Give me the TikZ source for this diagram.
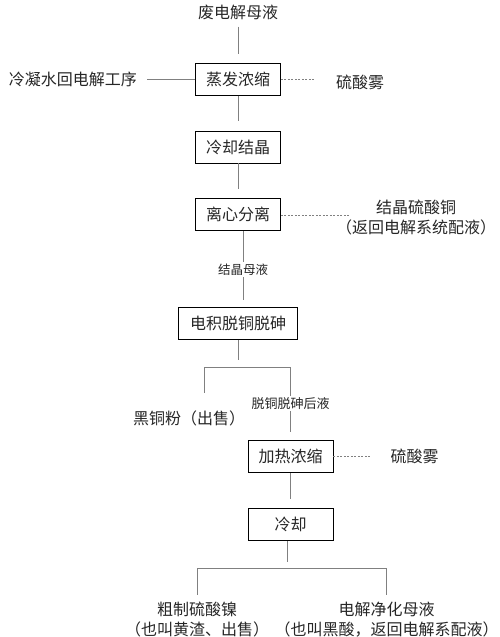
\documentclass[tikz,border=0pt]{standalone}
\usepackage{fontspec}
\setmainfont{Noto Sans CJK SC}
\usetikzlibrary{positioning, calc}
\tikzset{
    proc_node/.style={rectangle, minimum width=85pt, minimum height=32pt, inner sep=0pt, text centered, align=center, draw=black, line width=0.9pt},
    plain_text/.style={inner sep=0pt, text centered, align=center},
    small_label/.style={inner sep=1.5pt, fill=white, font=\fontsize{12.5}{15}\selectfont},
    line/.style={draw=black!50, line width=0.8pt},
    dashed_line/.style={draw=black!50, line width=0.7pt, dash pattern=on 2pt off 1.5pt},
}
\begin{document}
\begin{tikzpicture}[x=1pt, y=1pt, font=\fontsize{16}{20}\selectfont, text=black!85]
      \useasboundingbox (0,0) rectangle (500,-637);
      %%%%%%%%%%%%%%%%%%%%%%
      % EVAPORATION / CRYST %
      %%%%%%%%%%%%%%%%%%%%%%
      \node (waste_liquor) [plain_text] at (238,-12) {废电解母液};
      \node (evap) [proc_node, below=43pt of waste_liquor] {蒸发浓缩};
      \node (condensate) [plain_text, left=58pt of evap] {冷凝水回电解工序};
      \node (acid_mist_a) [plain_text, right=55pt of evap, yshift=-3pt] {硫酸雾};
      \node (cool_cryst) [proc_node, below=35pt of evap] {冷却结晶};
      \node (centri) [proc_node, below=35pt of cool_cryst] {离心分离};
      \node (cu_sulfate) [plain_text, right=55pt of centri, yshift=-2.5pt]
            {结晶硫酸铜\\（返回电解系统配液）};

      \draw [line, shorten <=7pt, shorten >=9pt] (waste_liquor) -- (evap);
      \draw [line, shorten <=10pt] (condensate) -- (evap);
      \draw [dashed_line, shorten >=20pt] (evap.east) -- (evap.east -| acid_mist_a.west);
      \draw [line, shorten >=10pt] (evap) -- (cool_cryst);
      \draw [line, shorten >=9pt] (cool_cryst) -- (centri);
      \draw [dashed_line] (centri.east) -- ($(centri.east -| cu_sulfate.west)+(13,0)$);

      %%%%%%%%%%%%%%%%%%%%%
      % ELECTRO-WINNING   %
      %%%%%%%%%%%%%%%%%%%%%
      \node (electro) [proc_node, minimum width=119pt, below=76pt of centri] {电积脱铜脱砷};
      \draw [line, shorten >=7pt] ([xshift=5pt]centri.south) -- ([xshift=5pt]electro.north)
            node [small_label, midway] {结晶母液};

      \coordinate (fork_a) at ([yshift=-27pt]electro.south);
      \coordinate (fork_a_left) at ([xshift=-34pt]fork_a);
      \node (black_cu) [plain_text, below=70pt of electro, xshift=-49pt] {黑铜粉（出售）};
      \node (heat) [proc_node, below=100pt of electro, xshift=52.5pt] {加热浓缩};
      \node (acid_mist_b) [plain_text, right=57pt of heat] {硫酸雾};
      \node (cooling) [proc_node, below=35pt of heat] {冷却};

      \draw [line, shorten >=7pt] (electro) -- (fork_a);
      \draw [line] (fork_a_left) -- (fork_a -| heat.north);
      \draw [line, shorten >=17pt] (fork_a_left) -- (fork_a_left |- black_cu.north);
      \draw [line, shorten >=8pt] (fork_a -| heat.north) -- (heat.north)
            node [small_label, midway, font=\fontsize{13}{15}\selectfont] {脱铜脱砷后液};
      \draw [dashed_line, shorten >=19pt] (heat) -- (acid_mist_b);
      \draw [line, shorten >=9pt] (heat) -- (cooling);

      %%%%%%%%%%%%%%%%%%%%%
      % PRODUCTS          %
      %%%%%%%%%%%%%%%%%%%%%
      \coordinate (fork_b) at ([xshift=-3.5pt, yshift=-27pt]cooling.south);
      \node (ni_sulfate) [plain_text, below=61pt of cooling, xshift=-93.5pt]
            {粗制硫酸镍\\（也叫黄渣、出售）};
      \node (acid_liquor) [plain_text, below=61pt of cooling, xshift=96pt]
            {电解净化母液\\（也叫黑酸，返回电解系配液）};

      \draw [line, shorten >=6pt] ([xshift=-3.5pt]cooling.south) -- (fork_b);
      \draw [line] (fork_b -| ni_sulfate.north) -- (fork_b -| acid_liquor.north);
      \draw [line, shorten >=7pt] (fork_b -| ni_sulfate.north) -- (ni_sulfate.north);
      \draw [line, shorten >=7pt] (fork_b -| acid_liquor.north) -- (acid_liquor.north);
\end{tikzpicture}
\end{document}
